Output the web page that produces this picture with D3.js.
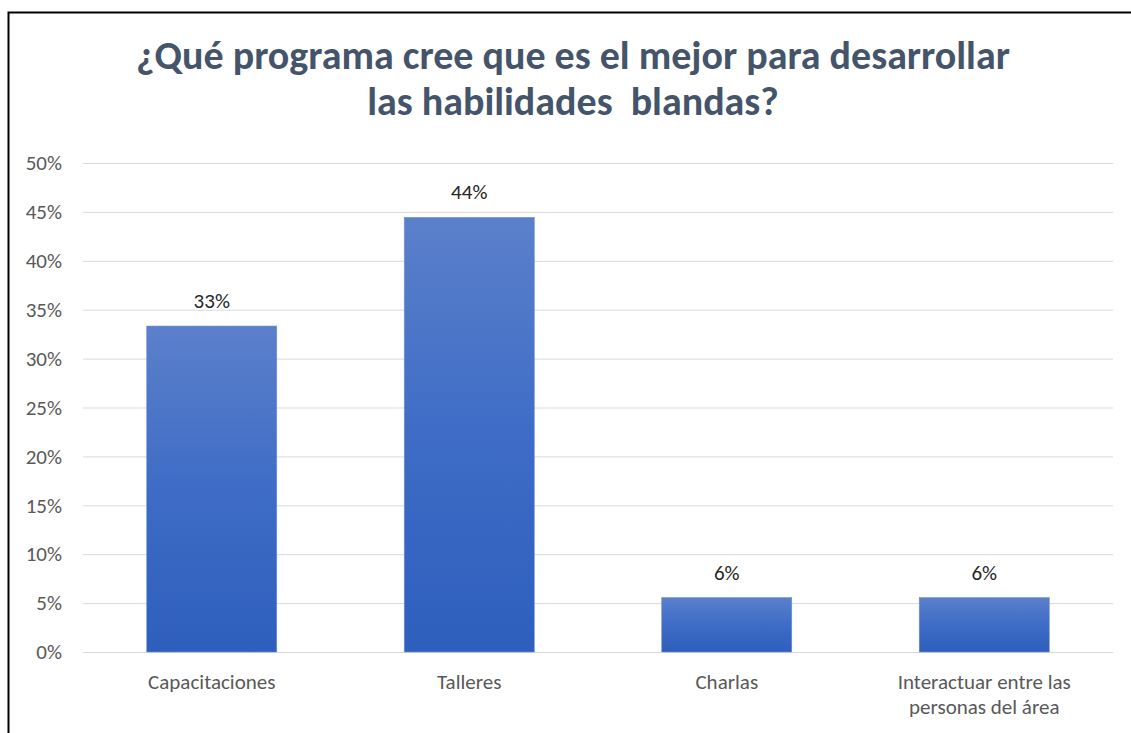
<!DOCTYPE html>
<html>
<head>
<meta charset="utf-8">
<script src="https://cdn.jsdelivr.net/npm/d3@7"></script>
<style>
  body { margin: 0; background: #fff; }
  svg { display: block; }
</style>
</head>
<body>
<script>
// data
const categories = ["Capacitaciones", "Talleres", "Charlas", "Interactuar entre las personas del área"];
const values = [0.3333, 0.4444, 0.0556, 0.0556];
const valueLabels = ["33%", "44%", "6%", "6%"];
const tickValues = [0, 0.05, 0.10, 0.15, 0.20, 0.25, 0.30, 0.35, 0.40, 0.45, 0.50];
const titleLines = ["¿Qué programa cree que es el mejor para desarrollar", "las habilidades  blandas?"];

const W = 1131, H = 733;
const margin = {top: 163, right: 18, bottom: 81, left: 83};
const plotW = W - margin.left - margin.right;
const plotH = H - margin.top - margin.bottom;
const font = "Carlito, Lato, 'Open Sans', sans-serif";
const smallSize = 21;

const svg = d3.select("body").append("svg")
    .attr("width", W)
    .attr("height", H);

// chart frame (only left and top edges fall inside the picture)
svg.append("rect")
    .attr("x", 8.5).attr("y", 12.5)
    .attr("width", W + 20).attr("height", H + 20)
    .attr("fill", "#fff")
    .attr("stroke", "#000")
    .attr("stroke-width", 2);

// gradient for the bars
const grad = svg.append("defs").append("linearGradient")
    .attr("id", "barGrad")
    .attr("x1", 0).attr("y1", 0).attr("x2", 0).attr("y2", 1);
grad.append("stop").attr("offset", "0%").attr("stop-color", "#5b80cb");
grad.append("stop").attr("offset", "50%").attr("stop-color", "#3e6cc6");
grad.append("stop").attr("offset", "100%").attr("stop-color", "#2e5fbd");

// title
const title = svg.append("g");
title.selectAll("text")
    .data(titleLines)
    .enter().append("text")
    .attr("x", 573)
    .attr("y", (d, i) => 69 + i * 46)
    .attr("text-anchor", "middle")
    .attr("font-family", font)
    .attr("font-weight", "bold")
    .attr("font-size", 30)
    .attr("fill", "#44546a")
    .style("white-space", "pre")
    .text(d => d);
// fit the first line to the width seen in the picture
const len = title.select("text").node().getComputedTextLength();
title.selectAll("text").attr("font-size", 30 * 874 / len);

const g = svg.append("g")
    .attr("transform", "translate(" + margin.left + "," + margin.top + ")");

const yscale = d3.scaleLinear()
    .domain([0, 0.5])
    .range([plotH, 0]);

const xscale = d3.scaleBand()
    .domain(categories)
    .range([0, plotW])
    .paddingInner(0.495)
    .paddingOuter(0.2475);

// gridlines
g.append("g")
    .call(d3.axisLeft(yscale).tickValues(tickValues).tickSize(-plotW).tickFormat(""))
    .call(ax => ax.select(".domain").remove())
    .call(ax => ax.selectAll("line").attr("stroke", "#d9d9d9").attr("stroke-width", 1));

// y axis labels
g.append("g")
    .call(d3.axisLeft(yscale).tickValues(tickValues).tickSize(0).tickPadding(21)
        .tickFormat(d3.format(".0%")))
    .call(ax => ax.select(".domain").remove())
    .call(ax => ax.selectAll("text")
        .attr("font-family", font)
        .attr("font-size", smallSize)
        .attr("fill", "#595959"));

// bars
g.selectAll(".bar")
    .data(values)
    .enter().append("rect")
    .attr("class", "bar")
    .attr("x", (d, i) => xscale(categories[i]))
    .attr("y", d => yscale(d))
    .attr("width", xscale.bandwidth())
    .attr("height", d => plotH - yscale(d))
    .attr("fill", "url(#barGrad)")
    .attr("stroke", "#6f8fd3")
    .attr("stroke-width", 0.6);

// data labels
g.selectAll(".lbl")
    .data(values)
    .enter().append("text")
    .attr("class", "lbl")
    .attr("x", (d, i) => xscale(categories[i]) + xscale.bandwidth() / 2)
    .attr("y", d => yscale(d) - 18)
    .attr("text-anchor", "middle")
    .attr("font-family", font)
    .attr("font-size", smallSize)
    .attr("fill", "#262626")
    .text((d, i) => valueLabels[i]);

// x axis labels (wrapped to two lines when too long)
const xAxis = g.append("g")
    .attr("transform", "translate(0," + plotH + ")")
    .call(d3.axisBottom(xscale).tickSize(0).tickPadding(0).tickFormat(""))
    .call(ax => ax.select(".domain").remove());

xAxis.selectAll(".tick").each(function(d) {
    const words = d.split(" ");
    let lines = [d];
    if (words.length > 3) lines = [words.slice(0, 3).join(" "), words.slice(3).join(" ")];
    const t = d3.select(this).append("text")
        .attr("text-anchor", "middle")
        .attr("font-family", font)
        .attr("font-size", smallSize)
        .attr("fill", "#595959");
    lines.forEach((l, i) => {
        t.append("tspan").attr("x", 0).attr("y", 37 + i * 25).text(l);
    });
});
</script>
</body>
</html>
